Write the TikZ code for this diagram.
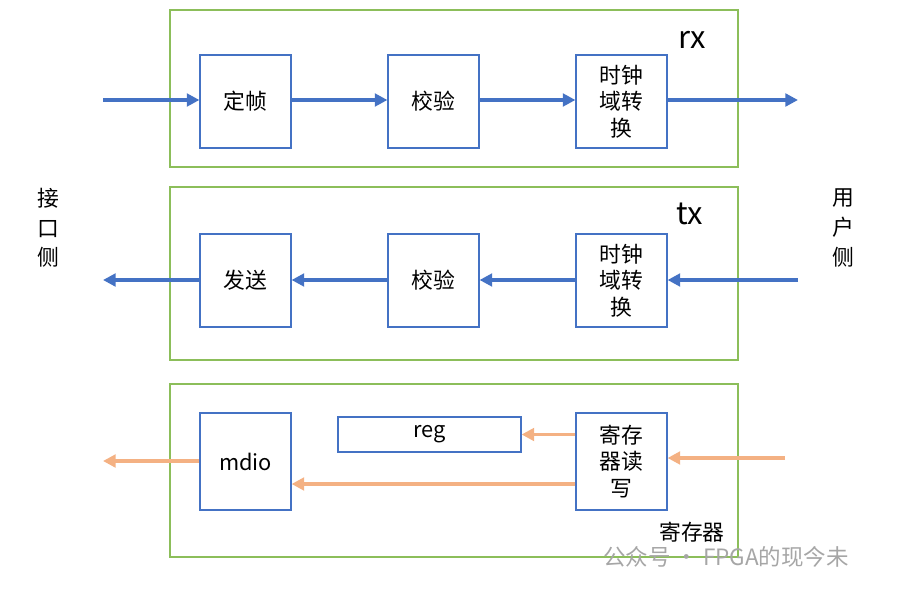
\documentclass[tikz,border=0pt]{standalone}
\usepackage{fontspec}
\setmainfont{Noto Sans CJK SC}
\usepackage{tikz}
\usetikzlibrary{arrows.meta, positioning}

\definecolor{framegreen}{RGB}{140,190,90}
\definecolor{boxblue}{RGB}{68,114,196}
\definecolor{flowblue}{RGB}{68,114,196}
\definecolor{regorange}{RGB}{244,177,131}

\begin{document}
\begin{tikzpicture}[
    x=0.025cm, y=-0.025cm,
    frame/.style={draw=framegreen, line width=0.8pt},
    box/.style={rectangle, draw=boxblue, line width=0.8pt, minimum width=2.275cm, minimum height=2.325cm, align=center, font=\fontsize{15.5}{19}\selectfont, inner sep=0pt},
    side/.style={align=center, font=\fontsize{15.5}{21}\selectfont},
    tag/.style={font=\fontsize{22}{24}\selectfont},
    dataflow/.style={-{Triangle[length=9pt, width=9pt]}, draw=flowblue, line width=2.6pt},
    regflow/.style={-{Triangle[length=9pt, width=9pt]}, draw=regorange, line width=2.6pt}
]
\useasboundingbox (0,0) rectangle (902,592);

% rx path
\draw[frame] (170,10) rectangle (738,167);
\node[tag] (rxtag) at (692,40) {rx};
\node[box] (frm) at (245.5,101.5) {定帧};
\node[box] (rxchk) at (433.5,101.5) {校验};
\node[box] (rxcdc) at (621.5,101.5) {时钟\\域转\\换};
\coordinate (rxin) at (103,100);
\coordinate (rxout) at (798,100);
\draw[dataflow] (rxin) -- (frm.west |- rxin);
\draw[dataflow] (frm.east |- rxin) -- (rxchk.west |- rxin);
\draw[dataflow] (rxchk.east |- rxin) -- (rxcdc.west |- rxin);
\draw[dataflow] (rxcdc.east |- rxin) -- (rxout);

% tx path
\draw[frame] (170,187) rectangle (738,360);
\node[tag] (txtag) at (690,214) {tx};
\node[box] (send) at (245.5,280.5) {发送};
\node[box] (txchk) at (433.5,280.5) {校验};
\node[box] (txcdc) at (621.5,280.5) {时钟\\域转\\换};
\coordinate (txin) at (798,280);
\coordinate (txout) at (103,280);
\draw[dataflow] (txin) -- (txcdc.east |- txin);
\draw[dataflow] (txcdc.west |- txin) -- (txchk.east |- txin);
\draw[dataflow] (txchk.west |- txin) -- (send.east |- txin);
\draw[dataflow] (send.west |- txin) -- (txout);

% sides
\node[side] (ifside) at (48,228) {接\\口\\侧};
\node[side] (usrside) at (843,228) {用\\户\\侧};

% registers
\draw[frame] (170,384) rectangle (738,557);
\node[box, minimum height=2.425cm] (mdio) at (245.5,461.5) {mdio};
\node[box, minimum width=4.575cm, minimum height=0.875cm] (reg) at (429.5,434.5) {reg};
\node[box, minimum height=2.425cm] (rdwr) at (621.5,461.5) {寄存\\器读\\写};
\node[font=\fontsize{15.5}{19}\selectfont] (regtag) at (692,532) {寄存器};
\coordinate (regin) at (785,458);
\coordinate (mdioout) at (103,461);
\draw[regflow] (regin) -- (rdwr.east |- regin);
\draw[regflow] (rdwr.west |- reg) -- (reg.east);
\draw[regflow] (rdwr.west |- 0,484) -- (mdio.east |- 0,484);
\draw[regflow] (mdio.west |- mdioout) -- (mdioout);

% watermark
\node[text=gray!70, font=\fontsize{16}{19}\selectfont] (mark) at (726,557) {公众号 · FPGA的现今未};
\end{tikzpicture}
\end{document}
